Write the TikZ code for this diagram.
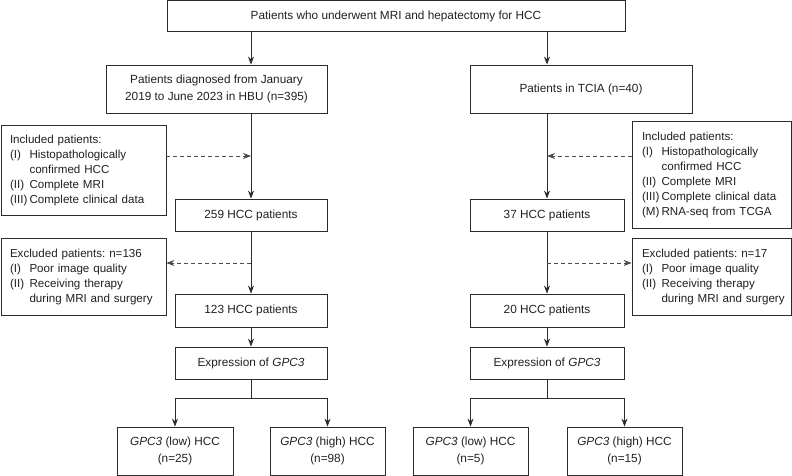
\documentclass[tikz,border=0pt]{standalone}
\usepackage{fontspec}
\setmainfont{Liberation Sans}
\frenchspacing
\usetikzlibrary{arrows.meta}
\definecolor{linec}{HTML}{2B2B2B}
\definecolor{textc}{HTML}{231F20}
\definecolor{dashc}{HTML}{4A4A4A}
\begin{document}
\begin{tikzpicture}[x=1pt,y=-1pt,
  box/.style={draw=linec, line width=0.8pt, inner sep=0pt, align=center, text=textc,
    font=\fontsize{11.8}{17.5}\selectfont},
  listbox/.style={box, align=left, inner xsep=9pt, font=\fontsize{11.6}{15}\selectfont},
  arr/.style={draw=linec, line width=0.8pt, -{Stealth[length=8pt,width=6pt]}},
  plain/.style={draw=linec, line width=0.8pt},
  darr/.style={arr, dash pattern=on 4pt off 3pt, draw=dashc},
]
\useasboundingbox (0,0) rectangle (792,476);

% top
\node[box, minimum width=458pt, minimum height=31pt] (top) at (396,16)
  {Patients who underwent MRI and hepatectomy for HCC};

% left column
\node[box, minimum width=221pt, minimum height=48pt] (hbu) at (216.5,89)
  {Patients diagnosed from January\\2019 to June 2023 in HBU (n=395)};
\node[box, minimum width=152pt, minimum height=32pt] (p259) at (251,215) {259 HCC patients};
\node[box, minimum width=152pt, minimum height=33pt] (p123) at (251,310.5) {123 HCC patients};
\node[box, minimum width=152pt, minimum height=32pt] (expL) at (251,363) {Expression of \textit{GPC3}};
\node[box, minimum width=116pt, minimum height=48pt] (lowL) at (175,451)
  {\textit{GPC3} (low) HCC\\(n=25)};
\node[box, minimum width=115pt, minimum height=48pt] (highL) at (327.5,451)
  {\textit{GPC3} (high) HCC\\(n=98)};

\node[listbox, minimum width=165pt, text width=147pt, minimum height=90pt] (inclL) at (83.5,170)
  {\begin{tabular}{@{}p{19.5pt}@{}l@{}}
   \multicolumn{2}{@{}l@{}}{Included patients:}\\
   (I) & Histopathologically\\
       & confirmed HCC\\
   (II) & Complete MRI\\
   (III) & Complete clinical data
   \end{tabular}};
\node[listbox, minimum width=165pt, text width=147pt, minimum height=77pt] (exclL) at (83.5,276.5)
  {\begin{tabular}{@{}p{19.5pt}@{}l@{}}
   \multicolumn{2}{@{}l@{}}{Excluded patients: n=136}\\
   (I) & Poor image quality\\
   (II) & Receiving therapy\\
        & during MRI and surgery
   \end{tabular}};

% right column
\node[box, minimum width=222pt, minimum height=48pt] (tcia) at (581,89) {Patients in TCIA (n=40)};
\node[box, minimum width=154pt, minimum height=32pt] (p37) at (547,215) {37 HCC patients};
\node[box, minimum width=154pt, minimum height=33pt] (p20) at (547,310.5) {20 HCC patients};
\node[box, minimum width=154pt, minimum height=32pt] (expR) at (547,363) {Expression of \textit{GPC3}};
\node[box, minimum width=115pt, minimum height=48pt] (lowR) at (470.5,451)
  {\textit{GPC3} (low) HCC\\(n=5)};
\node[box, minimum width=115pt, minimum height=48pt] (highR) at (624.5,451)
  {\textit{GPC3} (high) HCC\\(n=15)};

\node[listbox, inner xsep=10pt, minimum width=159pt, text width=139pt, minimum height=107pt] (inclR) at (711.5,174.5)
  {\begin{tabular}{@{}p{19.5pt}@{}l@{}}
   \multicolumn{2}{@{}l@{}}{Included patients:}\\
   (I) & Histopathologically\\
       & confirmed HCC\\
   (II) & Complete MRI\\
   (III) & Complete clinical data\\
   (M) & RNA-seq from TCGA
   \end{tabular}};
\node[listbox, inner xsep=10pt, minimum width=159pt, text width=139pt, minimum height=77pt] (exclR) at (711.5,276.5)
  {\begin{tabular}{@{}p{19.5pt}@{}l@{}}
   \multicolumn{2}{@{}l@{}}{Excluded patients: n=17}\\
   (I) & Poor image quality\\
   (II) & Receiving therapy\\
        & during MRI and surgery
   \end{tabular}};

% coordinates
\coordinate (yA) at (0,156);
\coordinate (yB) at (0,263);
\coordinate (jL) at (251,398);
\coordinate (jR) at (547,398);

% solid arrows left
\draw[arr] (top.south -| p259.north) -- (hbu.north -| p259.north);
\draw[arr] (hbu.south -| p259.north) -- (p259.north);
\draw[arr] (p259.south) -- (p123.north);
\draw[arr] (p123.south) -- (expL.north);
\draw[plain] (expL.south) -- (jL);
\draw[arr] (jL) -| (lowL.north);
\draw[arr] (jL) -| (highL.north);

% solid arrows right
\draw[arr] (top.south -| p37.north) -- (tcia.north -| p37.north);
\draw[arr] (tcia.south -| p37.north) -- (p37.north);
\draw[arr] (p37.south) -- (p20.north);
\draw[arr] (p20.south) -- (expR.north);
\draw[plain] (expR.south) -- (jR);
\draw[arr] (jR) -| (lowR.north);
\draw[arr] (jR) -| (highR.north);

% dashed arrows
\draw[darr] (inclL.east |- yA) -- (p259.north |- yA);
\draw[darr] (p259.south |- yB) -- (exclL.east |- yB);
\draw[darr] (inclR.west |- yA) -- (p37.north |- yA);
\draw[darr] (p37.south |- yB) -- (exclR.west |- yB);
\end{tikzpicture}
\end{document}
